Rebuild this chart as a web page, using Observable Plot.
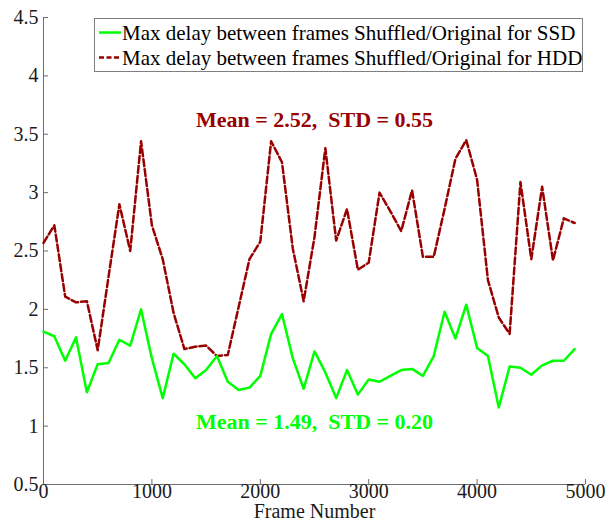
<!DOCTYPE html>
<html><head><meta charset="utf-8">
<script src="https://cdn.jsdelivr.net/npm/d3@7"></script>
<script src="https://cdn.jsdelivr.net/npm/@observablehq/plot@0.6"></script>
<style>
body{margin:0;background:#fff;}
#wrap{position:relative;width:607px;height:524px;font-family:"Liberation Serif","Times New Roman",serif;}
#wrap svg{display:block;}
#wrap svg text{font-variant:normal !important;font-variant-numeric:normal !important;font-family:"Liberation Serif",serif !important;}
#legend{position:absolute;left:94px;top:18px;}
</style></head><body><div id="wrap"></div>
<script>
const frames = [0,100,200,300,400,500,600,700,800,900,1000,1100,1200,1300,1400,1500,1600,1700,1800,1900,2000,2100,2200,2300,2400,2500,2600,2700,2800,2900,3000,3100,3200,3300,3400,3500,3600,3700,3800,3900,4000,4100,4200,4300,4400,4500,4600,4700,4800,4900];
const ssd = [1.81,1.77,1.56,1.76,1.29,1.53,1.54,1.74,1.69,2.00,1.58,1.24,1.62,1.53,1.41,1.48,1.60,1.38,1.31,1.33,1.43,1.79,1.96,1.58,1.32,1.64,1.46,1.24,1.48,1.27,1.40,1.38,1.43,1.48,1.49,1.43,1.60,1.98,1.75,2.04,1.67,1.60,1.16,1.51,1.50,1.44,1.52,1.56,1.56,1.66];
const hdd = [2.57,2.72,2.11,2.06,2.07,1.65,2.28,2.90,2.50,3.44,2.72,2.43,1.97,1.66,1.68,1.69,1.60,1.61,2.02,2.43,2.58,3.44,3.26,2.52,2.07,2.62,3.38,2.59,2.86,2.34,2.40,3.00,2.84,2.67,3.02,2.45,2.45,2.86,3.29,3.45,3.11,2.25,1.93,1.79,3.09,2.43,3.05,2.42,2.78,2.74];
const xTicks = [0,1000,2000,3000,4000,5000];
const yTicks = [0.5,1,1.5,2,2.5,3,3.5,4,4.5];
const xTickLabels = ["0","1000","2000","3000","4000","5000"];
const yTickLabels = ["0.5","1","1.5","2","2.5","3","3.5","4","4.5"];
const seriesNames = ["Max delay between frames Shuffled/Original for SSD","Max delay between frames Shuffled/Original for HDD"];
const noteTexts = ["Mean = 2.52,\u00a0 STD = 0.55","Mean = 1.49,\u00a0 STD = 0.20"];
const xLabel = "Frame Number";

const serif = "Liberation Serif";
const green = "#00ff00", red = "#990000", axisColor = "#6e6e6e", ink = "#1a1a1a";
const ssdData = frames.map((f,i)=>({frame:f, value:ssd[i]}));
const hddData = frames.map((f,i)=>({frame:f, value:hdd[i]}));
const xTickData = xTicks.map((v,i)=>({v, label:xTickLabels[i]}));
const yTickData = yTicks.map((v,i)=>({v, label:yTickLabels[i]}));

const chart = Plot.plot({
  width:607, height:524,
  marginLeft:43, marginRight:22, marginTop:17, marginBottom:40,
  style:{fontFamily:serif, fontSize:"20px", color:ink, background:"white", overflow:"visible"},
  x:{domain:[0,5000], axis:null},
  y:{domain:[0.5,4.5], axis:null},
  marks:[
    Plot.tickY(yTicks, {y:d=>d, stroke:axisColor, insetRight:537}),
    Plot.tickX(xTicks, {x:d=>d, stroke:axisColor, insetTop:462}),
    Plot.ruleX([0], {stroke:axisColor}),
    Plot.ruleY([0.5], {stroke:axisColor}),
    Plot.text(xTickData, {x:"v", text:"label", frameAnchor:"bottom", dy:13, fontSize:20, fill:ink, fontFamily:serif, fontVariant:"normal"}),
    Plot.text(yTickData, {y:"v", text:"label", frameAnchor:"left", dx:-5, textAnchor:"end", fontSize:20, fill:ink, fontFamily:serif, fontVariant:"normal"}),
    Plot.line(hddData, {x:"frame", y:"value", stroke:red, strokeWidth:2.5, strokeDasharray:"7,3"}),
    Plot.line(ssdData, {x:"frame", y:"value", stroke:green, strokeWidth:2.5}),
    Plot.text([noteTexts[0]], {text:d=>d, x:2500, y:3.62, fill:red, fontWeight:"bold", fontSize:22, fontFamily:serif}),
    Plot.text([noteTexts[1]], {text:d=>d, x:2500, y:1.04, fill:green, fontWeight:"bold", fontSize:22, fontFamily:serif}),
    Plot.text([xLabel], {text:d=>d, frameAnchor:"bottom", dy:33, fontSize:20, fill:ink, fontFamily:serif})
  ]
});
const wrap = document.getElementById("wrap");
wrap.appendChild(chart);

// legend
const ns = "http://www.w3.org/2000/svg";
const lg = document.createElementNS(ns,"svg");
lg.setAttribute("id","legend");
lg.setAttribute("width","489"); lg.setAttribute("height","54");
lg.innerHTML = `
<rect x="0.5" y="0.5" width="488" height="53" fill="white" stroke="#7f7f7f" stroke-width="1"/>
<line x1="5" x2="27" y1="14.5" y2="14.5" stroke="${green}" stroke-width="2.5"/>
<line x1="5" x2="27" y1="39.5" y2="39.5" stroke="${red}" stroke-width="2.5" stroke-dasharray="5,2.5"/>
<text x="28" y="22" font-family="${serif}" font-size="21" fill="#000">${seriesNames[0]}</text>
<text x="28" y="47" font-family="${serif}" font-size="21" fill="#000">${seriesNames[1]}</text>`;
wrap.appendChild(lg);
</script></body></html>
